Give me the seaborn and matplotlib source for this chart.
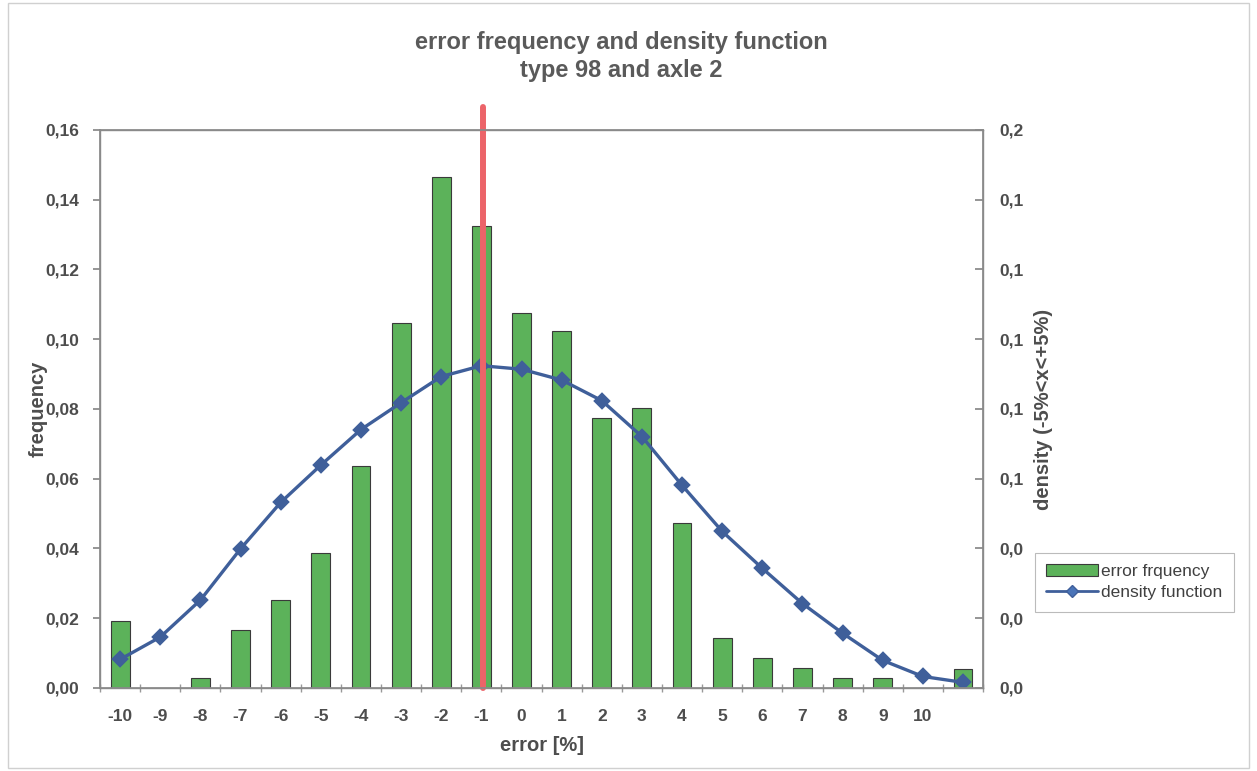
import numpy as np
import pandas as pd
import seaborn as sns
import matplotlib.pyplot as plt
from matplotlib.lines import Line2D
from matplotlib.patches import Patch, Rectangle

# values
error_labels = ["-10", "-9", "-8", "-7", "-6", "-5", "-4", "-3", "-2", "-1",
                "0", "1", "2", "3", "4", "5", "6", "7", "8", "9", "10", "11"]
tick_labels = error_labels[:-1] + [""]
error_freq = [0.0191, 0.0, 0.0030, 0.0167, 0.0252, 0.0388, 0.0636, 0.1047,
              0.1465, 0.1325, 0.1076, 0.1023, 0.0775, 0.0802, 0.0472, 0.0143,
              0.0087, 0.0058, 0.0028, 0.0028, 0.0, 0.0054]
density = [0.0082, 0.0146, 0.0252, 0.0399, 0.0532, 0.0639, 0.0741, 0.0818,
           0.0893, 0.0924, 0.0914, 0.0883, 0.0824, 0.0721, 0.0581, 0.0449,
           0.0343, 0.0242, 0.0157, 0.0079, 0.0033, 0.0016]
mean_error = "-1"

df = pd.DataFrame({"error": error_labels, "freq": error_freq, "density": density})

sns.set_theme(style="white")
plt.rcParams['font.family'] = ['Liberation Sans', 'DejaVu Sans']

txt = "#4d4d4d"
green = "#5cb25a"
blue = "#3f5f9a"
red = "#ec6469"

fig = plt.figure(figsize=(12.57, 7.71), dpi=100)
ax = fig.add_axes([0.0796, 0.1077, 0.7025, 0.7237])

sns.barplot(data=df, x="error", y="freq", order=error_labels, color=green,
            width=0.47, edgecolor="#3a3a3a", linewidth=0.8, saturation=1, ax=ax)
sns.pointplot(data=df, x="error", y="density", order=error_labels, color=blue,
              markers="D", markersize=7, linewidth=2.4, errorbar=None, ax=ax)
for c in ax.collections:
    c.set_facecolor("#4a74b8")

# red marker line at the mean error
xm = error_labels.index(mean_error) + 0.05
ax.plot([xm, xm], [0, 0.1665], color=red, lw=4.3, clip_on=False, zorder=5)

ax.set_xlim(-0.5, len(error_labels) - 0.5)
ax.set_ylim(0, 0.16)
yt = np.arange(0, 0.161, 0.02)
ax.set_yticks(yt)
ax.set_yticklabels([f"{v:.2f}".replace(".", ",") for v in yt])
ax.set_xticks(range(len(error_labels)))
ax.set_xticklabels(tick_labels)
ax.set_xticks(np.arange(-0.5, len(error_labels), 1), minor=True)
ax.tick_params(axis="x", which="major", length=0, pad=15)
ax.tick_params(axis="x", which="minor", direction="inout", length=6, color="#999999", bottom=True)
ax.tick_params(axis="y", direction="out", length=5, color="#888888", left=True, pad=10)
for lab in ax.get_xticklabels() + ax.get_yticklabels():
    lab.set_fontweight("bold")
    lab.set_color(txt)
    lab.set_fontsize(12.5)
for s in ax.spines.values():
    s.set_color("#8a8a8a")
    s.set_linewidth(1.0)

ax.set_xlabel("error [%]", fontsize=14.5, fontweight="bold", color=txt, labelpad=9)
ax.set_ylabel("frequency", fontsize=14.5, fontweight="bold", color=txt, labelpad=-2)

# secondary axis with one-decimal labels
ax2 = ax.twinx()
ax2.set_ylim(0, 0.16)
ax2.set_yticks(yt)
ax2.set_yticklabels([f"{v:.1f}".replace(".", ",") for v in yt])
ax2.tick_params(axis="y", direction="in", length=6, color="#888888", right=True, pad=12)
for lab in ax2.get_yticklabels():
    lab.set_fontweight("bold")
    lab.set_color(txt)
    lab.set_fontsize(12.5)
for s in ax2.spines.values():
    s.set_color("#8a8a8a")
ax2.set_ylabel("density (-5%<x<+5%)", fontsize=14.5, fontweight="bold", color=txt, labelpad=7)
ax2.grid(False)

fig.text(0.494, 0.927, "error frequency and density function\ntype 98 and axle 2",
         ha="center", va="center", fontsize=17, fontweight="bold", color="#5a5a5a",
         linespacing=1.25)

handles = [Patch(facecolor=green, edgecolor="#3a3a3a", linewidth=0.8),
           Line2D([], [], color=blue, lw=2, marker="D", markersize=6, markerfacecolor="#4a74b8")]
leg = fig.legend(handles, ["error frquency", "density function"], loc="upper left",
                 bbox_to_anchor=(0.823, 0.283), frameon=True, fancybox=False,
                 fontsize=12.5, handlelength=3.0, handletextpad=0.2, borderpad=0.65,
                 borderaxespad=0, labelspacing=0.35)
leg.get_frame().set_edgecolor("#aaaaaa")
leg.get_frame().set_linewidth(0.8)
for t in leg.get_texts():
    t.set_color("#404040")

fig.patches.append(Rectangle((0.006, 0.004), 0.988, 0.992, transform=fig.transFigure,
                             fill=False, edgecolor="#d0d0d0", lw=1))

fig.savefig("out.png", dpi=100)
